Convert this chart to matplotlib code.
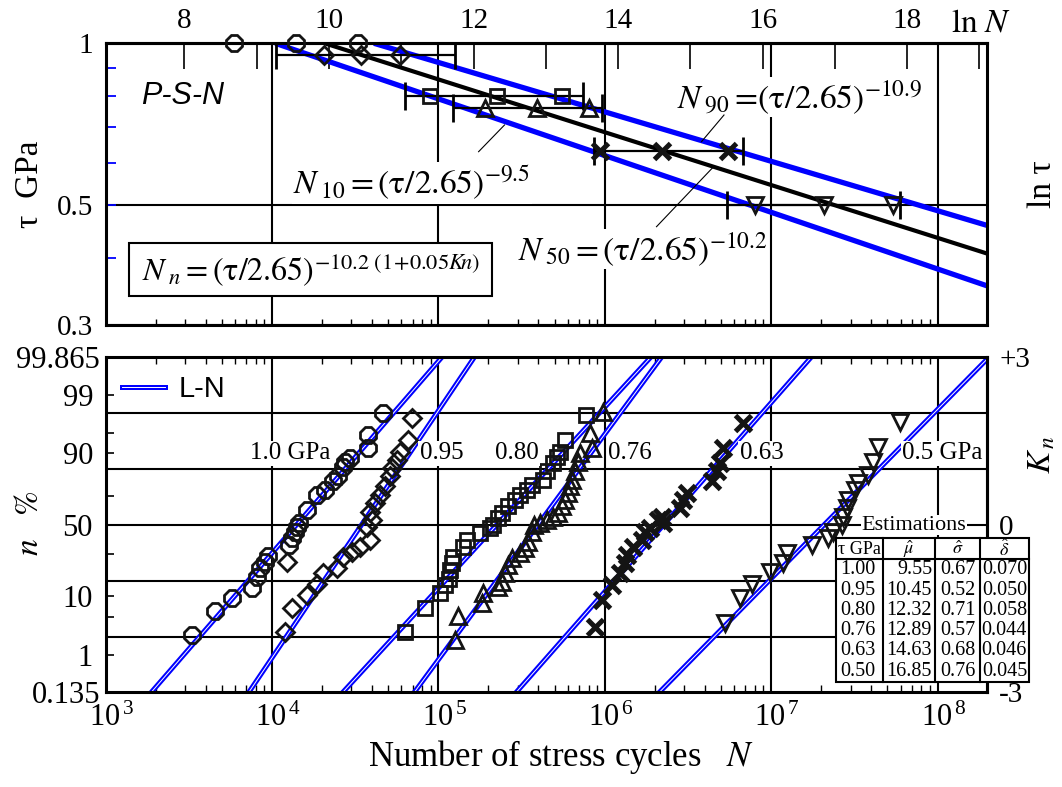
import numpy as np
import matplotlib
matplotlib.use('Agg')
import matplotlib.pyplot as plt
import matplotlib.patheffects as pe
from matplotlib.lines import Line2D
from matplotlib.patches import Rectangle
from matplotlib.ticker import FixedLocator, NullFormatter, FixedFormatter
from matplotlib.transforms import ScaledTranslation
from statistics import NormalDist

plt.rcParams['font.family'] = ['Liberation Serif', 'DejaVu Serif']
plt.rcParams['mathtext.fontset'] = 'stix'

# ---------------- data ----------------
tau_levels = [1.00, 0.95, 0.80, 0.76, 0.63, 0.50]
mu_hat = [9.55, 10.45, 12.32, 12.89, 14.63, 16.85]
sigma_hat = [0.67, 0.52, 0.71, 0.57, 0.68, 0.76]
delta_hat = [0.070, 0.050, 0.058, 0.044, 0.046, 0.045]
level_labels = ['1.0 GPa', '0.95', '0.80', '0.76', '0.63', '0.5 GPa']

# P-S-N curves  N_n = (tau/2.65)^(-exponent)
psn_c = 2.65
psn_exponents = [9.5, 10.2, 10.9]          # N10, N50, N90

# top panel: estimated N10, N50, N90 per stress level
psn_N_100 = [5954, 13990, 32990]
psn_N_095 = [20530, 34340, 58480]
psn_N_080 = [89300, 225000, 552000]
psn_N_076 = [191000, 391000, 809000]
psn_N_063 = [932000, 2203000, 5470000]
psn_N_050 = [8.02e6, 20.9e6, 54.3e6]

# top panel: scatter bands
bar_levels = [0.95, 0.80, 0.76, 0.63, 0.50]
bar_lo = [10540, 63240, 122700, 866500, 5.42e6]
bar_hi = [125300, 745000, 961000, 6.79e6, 59.2e6]

# bottom panel: cycles and normal quantile Kn of each specimen
N_100 = [3304, 4560, 5740, 7580, 8130, 8510, 9120, 9530, 12590, 13190, 13800, 14130,
         14450, 16220, 18620, 20890, 23440, 25120, 26920, 27540, 29510, 38020, 38020, 46770]
K_100 = [-1.97, -1.55, -1.31, -1.13, -0.93, -0.78, -0.66, -0.56, -0.36, -0.24, -0.12, -0.03,
         0.03, 0.27, 0.54, 0.63, 0.78, 0.87, 1.04, 1.13, 1.20, 1.37, 1.61, 2.00]
N_095 = [12020, 13180, 12300, 16220, 18620, 20400, 24550, 26920, 30200, 33880, 38900, 37200,
         39900, 38900, 41700, 44700, 47900, 51400, 52600, 56400, 59000, 66200, 69400]
K_095 = [-1.91, -1.49, -0.66, -1.25, -1.05, -0.87, -0.78, -0.57, -0.48, -0.39, -0.27, -0.03,
         0.09, 0.24, 0.39, 0.54, 0.69, 0.87, 1.02, 1.16, 1.31, 1.52, 1.91]
N_080 = [63240, 83510, 102800, 110100, 115200, 117900, 120600, 123300, 141600, 148400, 178300,
         205000, 214500, 229800, 240800, 263800, 289600, 310300, 340500, 364800, 428500, 449000,
         491900, 515600, 539500, 578300, 769100]
K_080 = [-1.91, -1.49, -1.22, -1.08, -0.96, -0.81, -0.69, -0.57, -0.39, -0.27, -0.15, -0.06,
         0.00, 0.12, 0.21, 0.33, 0.45, 0.54, 0.63, 0.72, 0.81, 0.96, 1.11, 1.22, 1.31, 1.52, 1.97]
N_076 = [126200, 132100, 182700, 186700, 229800, 240800, 252200, 263800, 276700, 310300, 332500,
         348300, 364800, 373400, 409500, 449000, 491900, 527300, 552400, 578300, 605400, 619500,
         634100, 663700, 695000, 711200, 837100, 817100, 981600]
K_076 = [-2.06, -1.64, -1.40, -1.22, -1.11, -1.02, -0.87, -0.72, -0.60, -0.51, -0.42, -0.30,
         -0.12, 0.00, 0.03, 0.09, 0.15, 0.21, 0.33, 0.45, 0.57, 0.69, 0.81, 0.96, 1.13, 1.28,
         1.37, 1.64, 2.03]
N_063 = [875000, 960800, 1103000, 1239000, 1327000, 1358000, 1489000, 1672000, 1750000, 1875000,
         2103000, 2205000, 2254000, 2839000, 2972000, 3113000, 4402000, 4718000, 4934000,
         5168000, 6812000]
K_063 = [-1.82, -1.34, -1.08, -0.87, -0.69, -0.54, -0.39, -0.27, -0.12, -0.05, 0.09, 0.15, 0.03,
         0.30, 0.45, 0.57, 0.78, 0.96, 1.11, 1.37, 1.82]
N_050 = [5.291e6, 6.513e6, 7.656e6, 9.862e6, 11.86e6, 12.42e6, 17.54e6, 22.08e6, 23.66e6,
         26.59e6, 27.18e6, 28.50e6, 29.12e6, 31.96e6, 33.45e6, 38.43e6, 41.18e6, 44.14e6, 59.61e6]
K_050 = [-1.76, -1.31, -1.05, -0.84, -0.69, -0.51, -0.36, -0.24, -0.12, 0.00, 0.15, 0.30, 0.45,
         0.63, 0.75, 0.90, 1.13, 1.40, 1.85]

pct_major = [0.135, 1, 10, 50, 90, 99, 99.865]
pct_major_labels = ['0.135', '1', '10', '50', '90', '99', '99.865']
pct_minor = [5, 30, 70, 95]
lnN_major = [8, 10, 12, 14, 16, 18]
lnN_minor = [9, 11, 13, 15, 17, 19]
decades = [3, 4, 5, 6, 7, 8]

psn_pts = [psn_N_100, psn_N_095, psn_N_080, psn_N_076, psn_N_063, psn_N_050]
N_groups = [N_100, N_095, N_080, N_076, N_063, N_050]
K_groups = [K_100, K_095, K_080, K_076, K_063, K_050]

# ---------------- styles ----------------
W, H = 1062, 787
def fx(px):
    return px / W
def fy(py):
    return 1 - py / H

mk = ['8', 'D', 's', '^', 'x', 'v']
ms = [12, 9.5, 10, 11, 12, 11]
mew = [2.0, 2.0, 2.0, 2.0, 3.6, 2.0]
EC = '#141414'
BLUE = '#0000ff'
SPW = 2.2

fig = plt.figure(figsize=(W / 100, H / 100), dpi=100)
L, R = 105.5, 986.6
axT = fig.add_axes([fx(L), fy(325), (R - L) / W, (325 - 43.3) / H])
axB = fig.add_axes([fx(L), fy(692.4), (R - L) / W, (692.4 - 357.4) / H])
XMAX = 10 ** 8.295

# ================= top panel =================
axT.set_xscale('log')
axT.set_yscale('log')
axT.set_xlim(1e3, XMAX)
axT.set_ylim(0.3, 1.0)
axT.set_axisbelow(True)

tau_line = np.array([1.0, 0.3])
for e, col, lw in zip(psn_exponents, [BLUE, 'k', BLUE], [3.8, 3.0, 3.8]):
    axT.plot((tau_line / psn_c) ** (-e), tau_line, color=col, lw=lw, zorder=2,
             solid_capstyle='butt')

for lvl, lo, hi in zip(bar_levels, bar_lo, bar_hi):
    mid = psn_pts[tau_levels.index(lvl)][1]
    axT.errorbar([mid], [lvl], xerr=[[mid - lo], [hi - mid]], fmt='none', ecolor='k',
                 elinewidth=1.6, capsize=10, capthick=2, zorder=3)

for i, lvl in enumerate(tau_levels):
    axT.plot(psn_pts[i], [lvl] * 3, ls='none', marker=mk[i], ms=ms[i], mfc='none',
             mec=EC, mew=mew[i], zorder=4, clip_on=False)

axT.xaxis.set_major_locator(FixedLocator([10.0 ** d for d in decades[1:]]))
axT.xaxis.set_minor_locator(FixedLocator([m * 10.0 ** d for d in decades[:-1] for m in range(2, 10)] +
                                         [2e8]))
axT.xaxis.set_major_formatter(NullFormatter())
axT.xaxis.set_minor_formatter(NullFormatter())
axT.tick_params(axis='x', which='major', length=0)
axT.tick_params(axis='x', which='minor', direction='in', length=4, width=1, top=False)
axT.yaxis.set_major_locator(FixedLocator([0.3, 0.5, 1.0]))
axT.yaxis.set_major_formatter(FixedFormatter(['0.3', '0.5', '1']))
axT.yaxis.set_minor_locator(FixedLocator([0.4, 0.6, 0.7, 0.8, 0.9]))
axT.yaxis.set_minor_formatter(NullFormatter())
axT.tick_params(axis='y', which='both', direction='in', length=7, width=1.3, color=BLUE,
                labelsize=21, pad=9)
axT.grid(True, which='major', color='k', lw=1.5)
for s in axT.spines.values():
    s.set_linewidth(SPW)

secT = axT.secondary_xaxis('top', functions=(np.log, np.exp))
secT.set_xticks(lnN_major)
secT.set_xticklabels([str(t) for t in lnN_major])
secT.set_xticks(lnN_minor, minor=True)
secT.xaxis.set_minor_formatter(NullFormatter())
secT.tick_params(which='both', direction='in', length=19, width=1.2, labelsize=21, pad=7)
secT.spines['top'].set_linewidth(SPW)

secR = axT.secondary_yaxis('right', functions=(np.log, np.exp))
secR.set_yticks([-1, 0])
secR.set_yticklabels(['\u22121', '0'])
secR.set_yticks([-0.5], minor=True)
secR.yaxis.set_minor_formatter(NullFormatter())
secR.tick_params(which='both', direction='in', length=7, width=1.2, labelsize=21, pad=9)
secR.spines['right'].set_linewidth(SPW)

# texts of the top panel
wb = dict(facecolor='white', edgecolor='none', pad=1)
fig.text(fx(141), fy(96), 'P-S-N', family='Liberation Sans', style='italic', fontsize=22,
         ha='left', va='center')
fig.text(fx(412), fy(183), r'$N\,_{10} = (\mathrm{\tau}/2.65)^{-9.5}$', fontsize=24,
         ha='center', va='center', bbox=wb, zorder=5)
fig.text(fx(800), fy(97), r'$N\,_{90} =\!(\mathrm{\tau}/2.65)^{-10.9}$', fontsize=24,
         ha='center', va='center', bbox=wb, zorder=5)
fig.text(fx(643), fy(249), r'$N\,_{50} = (\mathrm{\tau}/2.65)^{-10.2}$', fontsize=24,
         ha='center', va='center', bbox=wb, zorder=5)
fig.add_artist(Rectangle((fx(129), fy(296)), fx(492) - fx(129), fy(242.7) - fy(296),
                         transform=fig.transFigure, facecolor='white', edgecolor='k',
                         lw=1.5, zorder=4))
fig.text(fx(311), fy(270), r'$N\,_{n} = (\mathrm{\tau}/2.65)^{-10.2\ \mathrm{(1\!+\!0.05}K\!n\mathrm{)}}$',
         fontsize=23, ha='center', va='center', zorder=5)
for (x0, y0), (x1, y1) in [((478.6, 151.7), (504.5, 125)), ((724, 115), (701.5, 141.7)),
                           ((656.5, 226.7), (713.6, 166.7))]:
    fig.add_artist(Line2D([fx(x0), fx(x1)], [fy(y0), fy(y1)], transform=fig.transFigure,
                          color='k', lw=0.8, zorder=6))

# ================= bottom panel =================
axB.set_xscale('log')
axB.set_xlim(1e3, XMAX)
axB.set_ylim(-3, 3)
axB.set_axisbelow(True)

Kline = np.array([-3.0, 3.0])
for i in range(len(tau_levels)):
    axB.plot(np.exp(mu_hat[i] + sigma_hat[i] * Kline), Kline, color='white', lw=0.7,
             zorder=2, label='L-N' if i == 0 else None,
             path_effects=[pe.Stroke(linewidth=3.6, foreground=BLUE), pe.Normal()])
for i in range(len(tau_levels)):
    axB.plot(N_groups[i], K_groups[i], ls='none', marker=mk[i], ms=ms[i], mfc='none',
             mec=EC, mew=mew[i], zorder=4)

nd = NormalDist()
axB.xaxis.set_major_locator(FixedLocator([10.0 ** d for d in decades]))
axB.xaxis.set_major_formatter(FixedFormatter(
    [r'$\mathregular{\;\;10^{\,%d}}$' % d for d in decades]))
axB.xaxis.set_minor_locator(FixedLocator([m * 10.0 ** d for d in decades[:-1] for m in range(2, 10)] +
                                         [2e8]))
axB.xaxis.set_minor_formatter(NullFormatter())
axB.tick_params(axis='x', which='major', length=0, labelsize=22, pad=8)
axB.tick_params(axis='x', which='minor', direction='in', length=5, width=1, top=True)
axB.yaxis.set_major_locator(FixedLocator([nd.inv_cdf(p / 100) for p in pct_major]))
axB.yaxis.set_major_formatter(FixedFormatter(pct_major_labels))
axB.yaxis.set_minor_locator(FixedLocator([nd.inv_cdf(p / 100) for p in pct_minor]))
axB.yaxis.set_minor_formatter(NullFormatter())
axB.tick_params(axis='y', which='both', direction='in', length=6, width=1.2, labelsize=22, pad=9)
axB.grid(True, which='major', axis='x', color='k', lw=1.5)
for k in [-2, -1, 0, 1, 2]:
    axB.axhline(k, color='k', lw=1.5, zorder=1)
for s in axB.spines.values():
    s.set_linewidth(SPW)
off = ScaledTranslation(7 / 100, 0, fig.dpi_scale_trans)
for lbl in axB.get_yticklabels():
    if lbl.get_text() in ('99.865', '0.135'):
        lbl.set_transform(lbl.get_transform() + off)

secK = axB.secondary_yaxis('right', functions=(lambda v: v, lambda v: v))
secK.set_yticks([-3, 0, 3])
secK.set_yticklabels(['-3', '0', '+3'])
secK.tick_params(direction='in', length=7, width=1.2, labelsize=21, pad=9)
secK.spines['right'].set_linewidth(SPW)

leg = axB.legend(loc='center left', bbox_to_anchor=(fx(122 - L) * W / (R - L), 0.905),
                 frameon=False, borderpad=0, borderaxespad=0, handlelength=1.47,
                 handletextpad=0.48, prop={'family': 'Liberation Sans', 'size': 21})

for lab, xc in zip(level_labels, [289.7, 441.7, 516.7, 630, 761.7, 942.5]):
    fig.text(fx(xc), fy(453), lab, fontsize=18, ha='center', va='center', bbox=wb, zorder=5)

# estimations table
fig.text(fx(914), fy(525), 'Estimations', fontsize=16, ha='center', va='center',
         bbox=dict(facecolor='white', edgecolor='none', pad=0.5), zorder=5)
tx0, tx1, ty0, ty1, thy = 835.5, 1028.8, 538.3, 681.7, 559.3
cols = [883, 935, 980]
fig.add_artist(Rectangle((fx(tx0), fy(ty1)), fx(tx1) - fx(tx0), fy(ty0) - fy(ty1),
                         transform=fig.transFigure, facecolor='white', edgecolor='k',
                         lw=1.5, zorder=6))
fig.add_artist(Line2D([fx(tx0), fx(tx1)], [fy(thy), fy(thy)], transform=fig.transFigure,
                      color='k', lw=1.5, zorder=7))
for c in cols:
    fig.add_artist(Line2D([fx(c), fx(c)], [fy(ty0), fy(ty1)], transform=fig.transFigure,
                          color='k', lw=1.5, zorder=7))
hy = (ty0 + thy) / 2 + 1
for txt, xc in zip(['\u03c4 GPa', r'$\hat{\mu}$', r'$\hat{\sigma}$', r'$\hat{\delta}$'],
                   [859.3, 909, 957.5, 1004.4]):
    fig.text(fx(xc), fy(hy), txt, fontsize=13, ha='center', va='center', zorder=8)
rows_y = np.linspace(570, 671, len(tau_levels))
for i in range(len(tau_levels)):
    yy = fy(rows_y[i])
    fig.text(fx(840), yy, f'{tau_levels[i]:.2f}', fontsize=14.5, ha='left', va='center', zorder=8)
    fig.text(fx(932), yy, f'{mu_hat[i]:.2f}', fontsize=14.5, ha='right', va='center', zorder=8)
    fig.text(fx(957.5), yy, f'{sigma_hat[i]:.2f}', fontsize=14.5, ha='center', va='center', zorder=8)
    fig.text(fx(1004.4), yy, f'{delta_hat[i]:.3f}', fontsize=14.5, ha='center', va='center', zorder=8)

# axis titles
fig.text(fx(30), fy(184), '\u03c4  GPa', fontsize=24, rotation=90, ha='center', va='center')
fig.text(fx(30), fy(523), r'$n\ \ \ \mathrm{\%}$', fontsize=24, rotation=90, ha='center', va='center')
fig.text(fx(1043), fy(184), 'ln \u03c4', fontsize=24, rotation=90, ha='center', va='center')
fig.text(fx(1042), fy(455), r'$K_{\,n}$', fontsize=24, rotation=90, ha='center', va='center')
fig.text(fx(981), fy(23), r'$\mathrm{ln}\ N$', fontsize=24, ha='center', va='center')
fig.text(fx(561), fy(757), r'Number of stress cycles   $N$', fontsize=25, ha='center', va='center')

fig.savefig('out.png', dpi=100)
